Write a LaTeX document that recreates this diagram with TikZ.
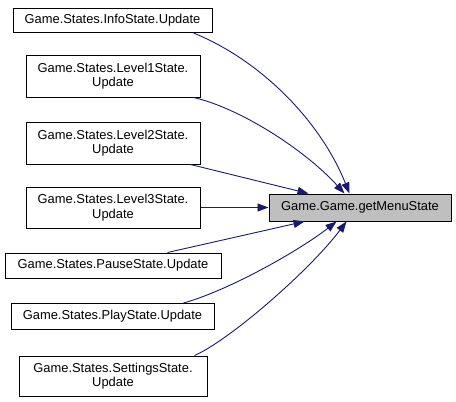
\documentclass[tikz,border=0pt]{standalone}
\usepackage{fontspec}
\setmainfont{Liberation Sans}
\usepackage{tikz}
\usetikzlibrary{arrows.meta, calc}
\definecolor{edgeblue}{RGB}{25,25,112}
\definecolor{boxgray}{RGB}{191,191,191}
\tikzset{
    % Caller nodes
    callbox/.style={rectangle, draw=black, fill=white, line width=1pt,
                inner sep=0pt, minimum width=#1, align=center,
                font=\fontsize{12.9}{14.5}\selectfont},
    % Called function
    mainbox/.style={rectangle, draw=black, fill=boxgray, line width=1pt,
                inner sep=0pt, minimum width=182pt, minimum height=27pt,
                align=center, font=\fontsize{12.9}{14.5}\selectfont},
    % Call edges
    carrow/.style={-{Triangle[length=11pt, width=8pt]}, line width=0.9pt, edgeblue},
}
\begin{document}
\begin{tikzpicture}[x=1pt, y=-1pt]
\useasboundingbox (0,0) rectangle (456,402);
\node[mainbox] (menu) at (360,207.5) {Game.Game.getMenuState};
\node[callbox=199pt, minimum height=24pt] (info)  at (112.5,20.5) {Game.States.InfoState.Update};
\node[callbox=174pt, minimum height=42pt] (lv1)   at (113,76)     {Game.States.Level1State.\\Update};
\node[callbox=174pt, minimum height=42pt] (lv2)   at (113,143)    {Game.States.Level2State.\\Update};
\node[callbox=174pt, minimum height=41pt] (lv3)   at (113,207.5)  {Game.States.Level3State.\\Update};
\node[callbox=216pt, minimum height=25pt] (pause) at (113,265.5)  {Game.States.PauseState.Update};
\node[callbox=203pt, minimum height=26pt] (play)  at (112.5,316.5) {Game.States.PlayState.Update};
\node[callbox=188pt, minimum height=40pt] (set)   at (113,376)    {Game.States.SettingsState.\\Update};
% edges into getMenuState
\draw[carrow] ([xshift=-19pt]info.south east) .. controls (260,60) and (320,120) .. ([xshift=81pt]menu.north west);
\draw[carrow] ([xshift=-7pt]lv1.south east) .. controls (240,108) and (305,150) .. ([xshift=76pt]menu.north west);
\draw[carrow] ([xshift=-10pt]lv2.south east) -- ([xshift=40pt]menu.north west);
\draw[carrow] (lv3.east) -- (menu.west);
\draw[carrow] ([xshift=-54pt]pause.north east) -- ([xshift=36pt]menu.south west);
\draw[carrow] ([xshift=-31pt]play.north east) .. controls (230,290) and (300,250) .. ([xshift=68pt]menu.south west);
\draw[carrow] ([xshift=-13pt]set.north east) .. controls (230,340) and (310,270) .. ([xshift=78pt]menu.south west);
\end{tikzpicture}
\end{document}
